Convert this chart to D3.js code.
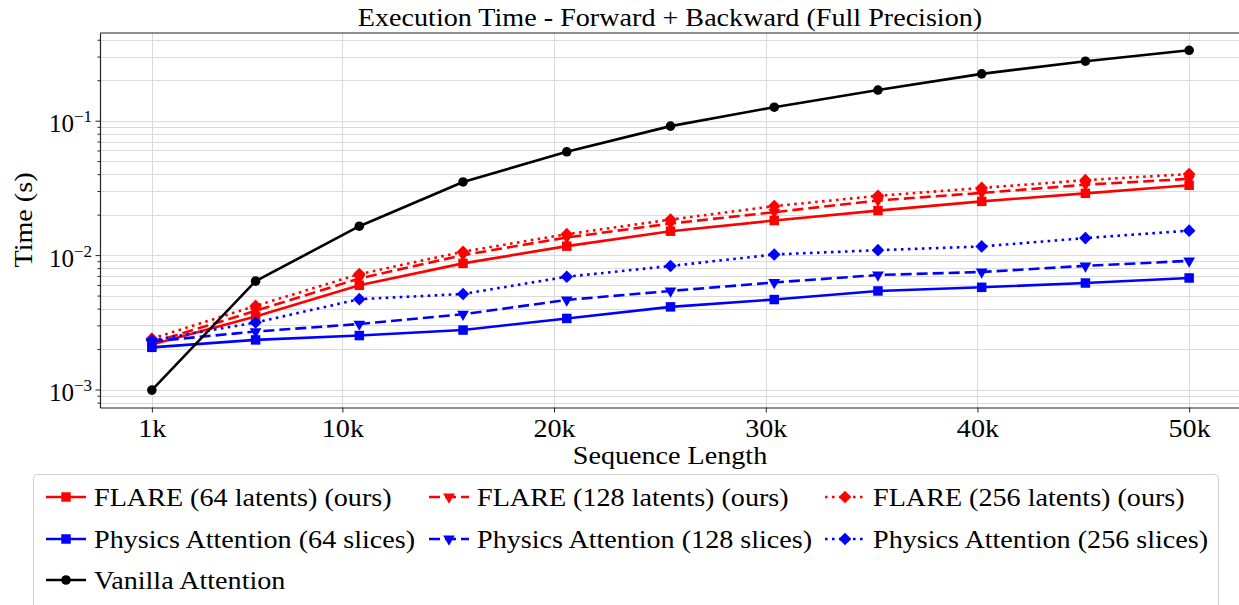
<!DOCTYPE html>
<html>
<head>
<meta charset="utf-8">
<script src="https://cdn.jsdelivr.net/npm/d3@7/dist/d3.min.js"></script>
<style>
  body { margin: 0; background: #fff; }
  svg text { font-family: "Liberation Serif", "DejaVu Serif", serif; fill: #000; }
</style>
</head>
<body>
<svg id="chart" width="1239" height="605" font-family="Liberation Serif, DejaVu Serif, serif"></svg>
<script>
// ---- data (seconds) ----
const seqLen = [1000, 5900, 10800, 15700, 20600, 25500, 30400, 35300, 40200, 45100, 50000];

const flare64   = [0.00216, 0.00349, 0.00596, 0.00868, 0.01166, 0.01506, 0.01807, 0.02143, 0.0251, 0.0288, 0.0331];
const flare128  = [0.00223, 0.00385, 0.00671, 0.0100, 0.01352, 0.01717, 0.02086, 0.0255, 0.0290, 0.0334, 0.0369];
const flare256  = [0.00239, 0.00419, 0.00722, 0.0106, 0.01431, 0.01837, 0.02314, 0.0276, 0.0316, 0.0361, 0.0401];
const phys64    = [0.00206, 0.00234, 0.00252, 0.00277, 0.00338, 0.00412, 0.00467, 0.00541, 0.00576, 0.0062, 0.00676];
const phys128   = [0.00228, 0.0027, 0.00307, 0.00363, 0.00464, 0.00541, 0.00626, 0.00711, 0.00749, 0.00832, 0.00906];
const phys256   = [0.00232, 0.00315, 0.0047, 0.00514, 0.0069, 0.0083, 0.01011, 0.01088, 0.0116, 0.01338, 0.0152];
const vanilla   = [0.00099, 0.0064, 0.0164, 0.0350, 0.0587, 0.0911, 0.126, 0.169, 0.223, 0.277, 0.334];

const xTickVals   = [1000, 10000, 20000, 30000, 40000, 50000];
const xTickLabels = ["1k", "10k", "20k", "30k", "40k", "50k"];
const yTickVals   = [1e-3, 1e-2, 1e-1];
const yTickExps   = ["\u22123", "\u22122", "\u22121"];

const titleText = "Execution Time - Forward + Backward (Full Precision)";
const xLabel = "Sequence Length";
const yLabel = "Time (s)";

// name, values, colour, dash, marker ; col/row is where it sits in the legend
const series = [
  { name: "FLARE (64 latents) (ours)",       values: flare64,  color: "#ff0000", dash: null,      marker: "square",   col: 0, row: 0 },
  { name: "FLARE (128 latents) (ours)",      values: flare128, color: "#ff0000", dash: "11,5",    marker: "triangle", col: 1, row: 0 },
  { name: "FLARE (256 latents) (ours)",      values: flare256, color: "#ff0000", dash: "2.6,4.4", marker: "diamond",  col: 2, row: 0 },
  { name: "Physics Attention (64 slices)",   values: phys64,   color: "#0000ff", dash: null,      marker: "square",   col: 0, row: 1 },
  { name: "Physics Attention (128 slices)",  values: phys128,  color: "#0000ff", dash: "11,5",    marker: "triangle", col: 1, row: 1 },
  { name: "Physics Attention (256 slices)",  values: phys256,  color: "#0000ff", dash: "2.6,4.4", marker: "diamond",  col: 2, row: 1 },
  { name: "Vanilla Attention",               values: vanilla,  color: "#000000", dash: null,      marker: "circle",   col: 0, row: 2 }
];

// ---- layout ----
const plot = { left: 100, right: 1241, top: 33, bottom: 407.5 };
const K = 1.125;   // widen Times-metric text toward the Computer Modern look
const FONT = "Liberation Serif, DejaVu Serif, serif";

const svg = d3.select("#chart");

const x = d3.scaleLinear().domain([1000 - 2450, 50000 + 2450]).range([plot.left, plot.right]);
const y = d3.scaleLog().domain([0.000735, 0.449]).range([plot.bottom, plot.top]);

// grid
const minorY = [];
for (let e = -4; e <= 0; e++) {
  for (let k = 1; k <= 9; k++) {
    const v = k * Math.pow(10, e);
    if (v >= y.domain()[0] && v <= y.domain()[1]) minorY.push(v);
  }
}
const grid = svg.append("g").attr("stroke", "#dadada").attr("stroke-width", 1);
grid.selectAll("line.h").data(minorY).join("line")
  .attr("class", "h")
  .attr("x1", plot.left).attr("x2", plot.right)
  .attr("y1", d => Math.round(y(d)) + 0.5).attr("y2", d => Math.round(y(d)) + 0.5);
grid.selectAll("line.v").data(xTickVals).join("line")
  .attr("class", "v")
  .attr("y1", plot.top).attr("y2", plot.bottom)
  .attr("x1", d => Math.round(x(d)) + 0.5).attr("x2", d => Math.round(x(d)) + 0.5);

// axes
const xAxis = d3.axisBottom(x).tickValues(xTickVals).tickFormat((d, i) => xTickLabels[i]).tickSize(5).tickSizeOuter(0);
const gx = svg.append("g").attr("transform", `translate(0,${plot.bottom})`).call(xAxis)
  .attr("font-family", FONT);
gx.select(".domain").attr("stroke", "#222").attr("stroke-width", 1.2);
gx.selectAll(".tick line").attr("stroke", "#222");
gx.selectAll(".tick text").attr("class", "t").attr("font-size", 25).attr("y", 0).attr("dy", "1.16em");

const yMinor = d3.axisLeft(y).tickValues(minorY.filter(v => !yTickVals.includes(v))).tickFormat("").tickSize(2.5).tickSizeOuter(0);
const gyMinor = svg.append("g").attr("transform", `translate(${plot.left},0)`).call(yMinor);
gyMinor.select(".domain").remove();
gyMinor.selectAll(".tick line").attr("stroke", "#222");

const yAxis = d3.axisLeft(y).tickValues(yTickVals).tickFormat("").tickSize(4.5).tickSizeOuter(0);
const gy = svg.append("g").attr("transform", `translate(${plot.left},0)`).call(yAxis)
  .attr("font-family", FONT);
gy.select(".domain").attr("stroke", "#222").attr("stroke-width", 1.2);
gy.selectAll(".tick line").attr("stroke", "#222");
gy.selectAll(".tick").each(function(d, i) {
  const t = d3.select(this).append("text")
    .attr("x", -8).attr("y", 11).attr("text-anchor", "end").attr("font-size", 25);
  t.append("tspan").text("10");
  t.append("tspan").attr("font-size", 17).attr("dy", -10).text(yTickExps[i]);
});

// top spine
svg.append("line").attr("x1", plot.left).attr("x2", plot.right)
  .attr("y1", plot.top).attr("y2", plot.top).attr("stroke", "#222").attr("stroke-width", 1.2);

// marker helper
function markerPath(kind) {
  if (kind === "square") return d3.symbol(d3.symbolSquare, 90)();
  if (kind === "circle") return d3.symbol(d3.symbolCircle, 72)();
  if (kind === "diamond") return d3.symbol(d3.symbolSquare, 80)();
  return d3.symbol(d3.symbolTriangle, 60)();
}
function markerRot(kind) {
  return kind === "diamond" ? 45 : kind === "triangle" ? 180 : 0;
}

// lines
const line = d3.line().x((d, i) => x(seqLen[i])).y(d => y(d));
const plotArea = svg.append("g");
series.forEach(s => {
  const g = plotArea.append("g");
  g.append("path").datum(s.values)
    .attr("d", line)
    .attr("fill", "none")
    .attr("stroke", s.color)
    .attr("stroke-width", 2.6)
    .attr("stroke-dasharray", s.dash)
    .attr("stroke-linejoin", "round");
  g.selectAll("path.m").data(s.values).join("path")
    .attr("class", "m")
    .attr("d", markerPath(s.marker))
    .attr("fill", s.color)
    .attr("transform", (d, i) => `translate(${x(seqLen[i])},${y(d)}) rotate(${markerRot(s.marker)})`);
});

// titles
svg.append("text").attr("class", "t").attr("x", 670).attr("y", 26)
  .attr("text-anchor", "middle").attr("font-size", 25).text(titleText);
svg.append("text").attr("class", "t").attr("x", 670).attr("y", 464)
  .attr("text-anchor", "middle").attr("font-size", 25).text(xLabel);
svg.append("text").attr("class", "t").attr("transform", "translate(32,220) rotate(-90)")
  .attr("text-anchor", "middle").attr("font-size", 25).text(yLabel);

// legend
const legend = svg.append("g");
legend.append("rect")
  .attr("x", 33.5).attr("y", 474.5).attr("width", 1185).attr("height", 160)
  .attr("rx", 4).attr("fill", "#fff").attr("stroke", "#d0d0d0").attr("stroke-width", 1);
const colX = [46, 429, 825];
const rowY = [497, 539, 580];
series.forEach(s => {
  const g = legend.append("g").attr("transform", `translate(${colX[s.col]},${rowY[s.row]})`);
  g.append("line").attr("x1", 0).attr("x2", 40).attr("y1", 0).attr("y2", 0)
    .attr("stroke", s.color).attr("stroke-width", 2.6).attr("stroke-dasharray", s.dash);
  g.append("path").attr("d", markerPath(s.marker)).attr("fill", s.color)
    .attr("transform", `translate(20,0) rotate(${markerRot(s.marker)})`);
  g.append("text").attr("class", "t").attr("x", 48).attr("y", 8.5).attr("font-size", 25).text(s.name);
});

// stretch text widths
svg.selectAll("text.t").each(function() {
  const w = this.getComputedTextLength();
  d3.select(this).attr("textLength", w * K).attr("lengthAdjust", "spacingAndGlyphs");
});
</script>
</body>
</html>
